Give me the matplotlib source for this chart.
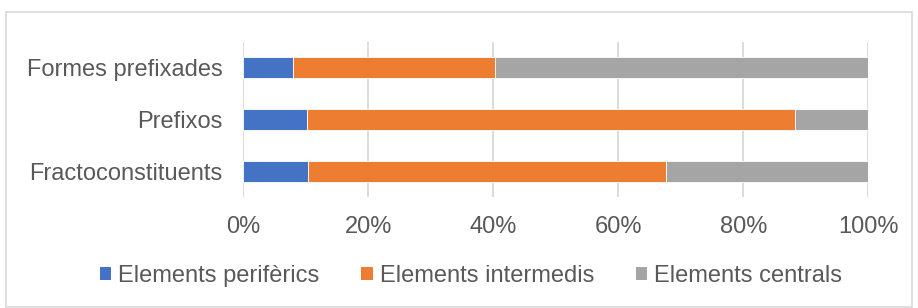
import matplotlib
matplotlib.use("Agg")
import matplotlib.pyplot as plt
from matplotlib.patches import Patch, Rectangle
from matplotlib.ticker import FuncFormatter

plt.rcParams['font.family'] = ['Liberation Sans', 'DejaVu Sans']

categories = ["Fractoconstituents", "Prefixos", "Formes prefixades"]
series_names = ["Elements perifèrics", "Elements intermedis", "Elements centrals"]
perifericss = [10.3, 10.2, 8.0]
intermedis = [57.3, 78.1, 32.3]
centrals = [32.4, 11.7, 59.7]
colors = ["#4472C4", "#ED7D31", "#A5A5A5"]
xticks = [0, 20, 40, 60, 80, 100]

W, H = 918, 308
fig = plt.figure(figsize=(W / 100, H / 100), dpi=100)
ax = fig.add_axes([243.3 / W, 1 - 197 / H, 625 / W, 155 / H])

ypos = list(range(len(categories)))
left = [0] * len(categories)
for vals, name, c in zip([perifericss, intermedis, centrals], series_names, colors):
    ax.barh(ypos, vals, left=left, height=0.4, color=c, edgecolor="white",
            linewidth=0.6, label=name, zorder=3)
    left = [l + v for l, v in zip(left, vals)]

ax.set_xlim(0, 100)
ax.set_ylim(-0.5, 2.5)
ax.set_xticks(xticks)
ax.xaxis.set_major_formatter(FuncFormatter(lambda v, p: f"{int(v)}%"))
ax.set_yticks(ypos)
ax.set_yticklabels(categories)
ax.grid(axis="x", color="#D9D9D9", linewidth=1.3, zorder=0)
for s in ax.spines.values():
    s.set_visible(False)
ax.tick_params(axis="both", length=0, labelsize=17, labelcolor="#595959")
ax.tick_params(axis="x", pad=14)
ax.tick_params(axis="y", pad=15)

handles = [Patch(facecolor=c, edgecolor="none") for c in colors]
fig.legend(handles, series_names, loc="center", bbox_to_anchor=(471 / W, 1 - 276 / H),
           ncol=3, frameon=False, fontsize=17, labelcolor="#595959",
           handlelength=0.5, handleheight=0.5, handletextpad=0.3,
           columnspacing=1.75, borderpad=0, borderaxespad=0)

fig.patches.append(Rectangle((6 / W, 0.002), (W - 12) / W, 1 - 12 / H - 0.002,
                             transform=fig.transFigure, fill=False,
                             edgecolor="#D9D9D9", linewidth=1.2))

fig.savefig("out.png", dpi=100, facecolor="white")
